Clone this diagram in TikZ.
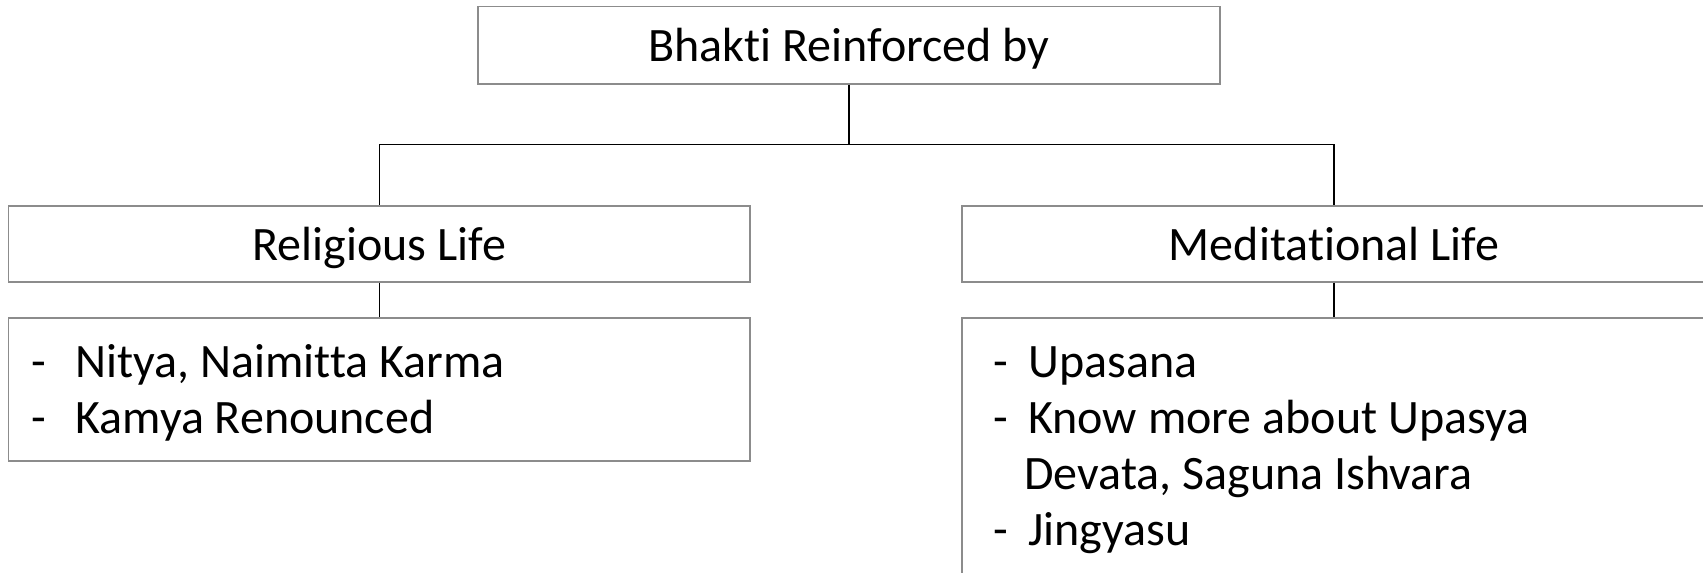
\documentclass[tikz,border=0pt]{standalone}
\usepackage{fontspec}
\setmainfont{Carlito}[Ligatures=NoCommon]
\usepackage{xcolor}
\usepackage{tikz}
\definecolor{boxline}{RGB}{140,140,140}

\begin{document}
\begin{tikzpicture}[x=0.5pt, y=-0.5pt,
    box/.style={rectangle, draw=boxline, line width=0.7pt, inner sep=0pt, text depth=0pt, font=\fontsize{24}{28}\selectfont},
    link/.style={draw=black, line width=0.6pt},
    items/.style={inner sep=0pt, anchor=base west, font=\fontsize{24}{28}\selectfont}]
     \useasboundingbox (0,0) rectangle (1703,573);

     \node[box, minimum width=371pt, minimum height=38.75pt] (top) at (849,45.25) {Bhakti Reinforced by};
     \node[box, minimum width=370.65pt, minimum height=38pt] (rel) at (379.35,244) {Religious Life};
     \node[box, minimum width=372pt, minimum height=38pt] (med) at (1334,244) {Meditational Life};
     \node[box, minimum width=370.65pt, minimum height=71.5pt] (relsub) at (379.35,389.5) {};
     \node[box, minimum width=372pt, minimum height=136pt] (medsub) at (1334,454) {};

     \node[items] (reltext) at (31,377) {\begin{tabular}[t]{@{}l@{}l@{}}
         \makebox[22pt][l]{-} & Nitya, Naimitta Karma\\
         \makebox[22pt][l]{-} & Kamya Renounced
       \end{tabular}};
     \node[items] (medtext) at (993,377) {\begin{tabular}[t]{@{}l@{}l@{}}
         \makebox[17.5pt][l]{-} & Upasana\\
         \makebox[17.5pt][l]{-} & Know more about Upasya\\
          & \hspace{-2pt}Devata, Saguna Ishvara\\
         \makebox[17.5pt][l]{-} & Jingyasu
       \end{tabular}};

     \coordinate (fork) at (849,144.6);
     \draw[link] (top.south) -- (fork);
     \draw[link] (fork) -| (rel.north);
     \draw[link] (fork) -| (med.north);
     \draw[link] (rel.south) -- (relsub.north);
     \draw[link] (med.south) -- (medsub.north);
 \end{tikzpicture}
\end{document}
